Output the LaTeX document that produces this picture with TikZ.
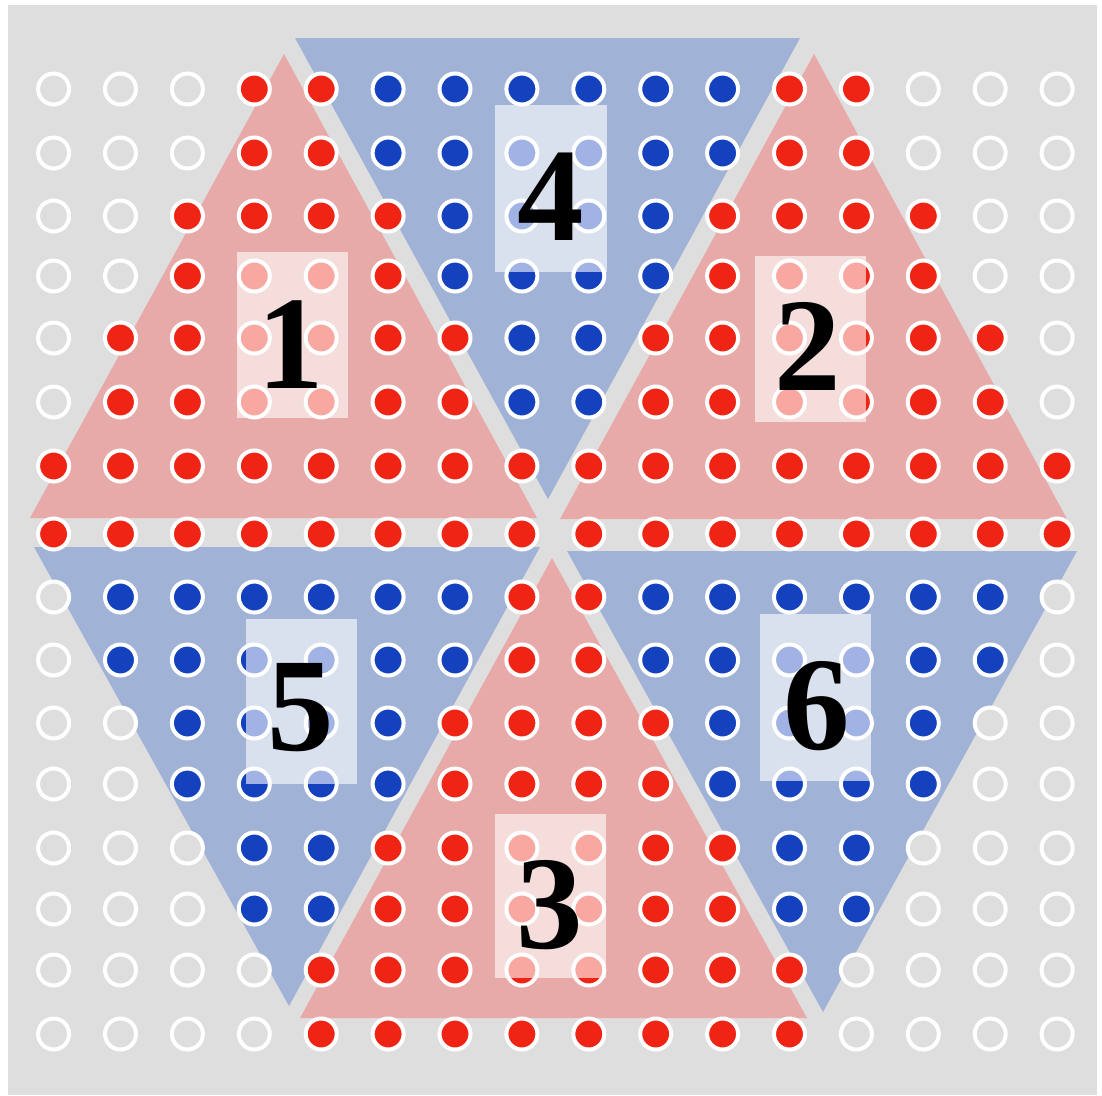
\documentclass[tikz,border=0pt]{standalone}
\usepackage{fontspec}
\setmainfont{Liberation Serif}
\definecolor{bggray}{RGB}{222,222,222}
\definecolor{redtri}{RGB}{232,170,168}
\definecolor{bluetri}{RGB}{160,178,214}
\definecolor{reddot}{RGB}{240,36,20}
\definecolor{bluedot}{RGB}{20,65,190}
\tikzset{
  redtriangle/.style={fill=redtri},
  bluetriangle/.style={fill=bluetri},
  dotwhite/.style={fill=bggray,draw=white,line width=4pt},
  dotred/.style={fill=reddot,draw=white,line width=4pt},
  dotblue/.style={fill=bluedot,draw=white,line width=4pt},
  labelbox/.style={fill=white,fill opacity=0.6},
  numlabel/.style={anchor=base,inner sep=0pt,font=\fontsize{133}{133}\selectfont\bfseries,text=black}
}
\begin{document}
\begin{tikzpicture}[x=1pt,y=-1pt]
\useasboundingbox (0,0) rectangle (1102,1095);
\fill[white] (0,0) rectangle (1102,1095);
\fill[bggray] (8,5) rectangle (1097,1095);
% triangles
\fill[redtriangle] (284,54) -- (30,518) -- (537,518) -- cycle;
\fill[bluetriangle] (295,38) -- (800,38) -- (548,499) -- cycle;
\fill[redtriangle] (814,54) -- (560,519) -- (1067,519) -- cycle;
\fill[bluetriangle] (34,547) -- (540,547) -- (289,1006) -- cycle;
\fill[redtriangle] (552,558) -- (300,1018) -- (807,1018) -- cycle;
\fill[bluetriangle] (567,551) -- (1077,551) -- (823,1012) -- cycle;
% dots
\foreach \yy/\codes in {
  89/{0,0,0,1,1,2,2,2,2,2,2,1,1,0,0,0},
  153/{0,0,0,1,1,2,2,2,2,2,2,1,1,0,0,0},
  216/{0,0,1,1,1,1,2,2,2,2,1,1,1,1,0,0},
  276/{0,0,1,1,1,1,2,2,2,2,1,1,1,1,0,0},
  338/{0,1,1,1,1,1,1,2,2,1,1,1,1,1,1,0},
  402/{0,1,1,1,1,1,1,2,2,1,1,1,1,1,1,0},
  466/{1,1,1,1,1,1,1,1,1,1,1,1,1,1,1,1},
  534/{1,1,1,1,1,1,1,1,1,1,1,1,1,1,1,1},
  597/{0,2,2,2,2,2,2,1,1,2,2,2,2,2,2,0},
  660/{0,2,2,2,2,2,2,1,1,2,2,2,2,2,2,0},
  723/{0,0,2,2,2,2,1,1,1,1,2,2,2,2,0,0},
  784/{0,0,2,2,2,2,1,1,1,1,2,2,2,2,0,0},
  848/{0,0,0,2,2,1,1,1,1,1,1,2,2,0,0,0},
  909/{0,0,0,2,2,1,1,1,1,1,1,2,2,0,0,0},
  970/{0,0,0,0,1,1,1,1,1,1,1,1,0,0,0,0},
  1034/{0,0,0,0,1,1,1,1,1,1,1,1,0,0,0,0}}{
  \foreach \cc [count=\i from 0] in \codes {
    \pgfmathsetmacro{\xx}{53.6+66.9*\i}
    \ifcase\cc
      \path[dotwhite] (\xx,\yy) circle[radius=15.5pt];
    \or
      \path[dotred] (\xx,\yy) circle[radius=15.5pt];
    \or
      \path[dotblue] (\xx,\yy) circle[radius=15.5pt];
    \fi
  }
}
% label boxes
\path[labelbox] (237,252) rectangle (348,418);
\path[labelbox] (495,105) rectangle (607,272);
\path[labelbox] (755,256) rectangle (866,422);
\path[labelbox] (246,619) rectangle (357,784);
\path[labelbox] (760,614) rectangle (871,781);
\path[labelbox] (495,814) rectangle (606,978);
% numbers
\node[numlabel] (n1) at (291,388) {1};
\node[numlabel] (n4) at (551,240) {4};
\node[numlabel] (n2) at (808,390) {2};
\node[numlabel] (n5) at (301,750) {5};
\node[numlabel] (n6) at (817,749) {6};
\node[numlabel] (n3) at (550,948) {3};
\end{tikzpicture}
\end{document}
